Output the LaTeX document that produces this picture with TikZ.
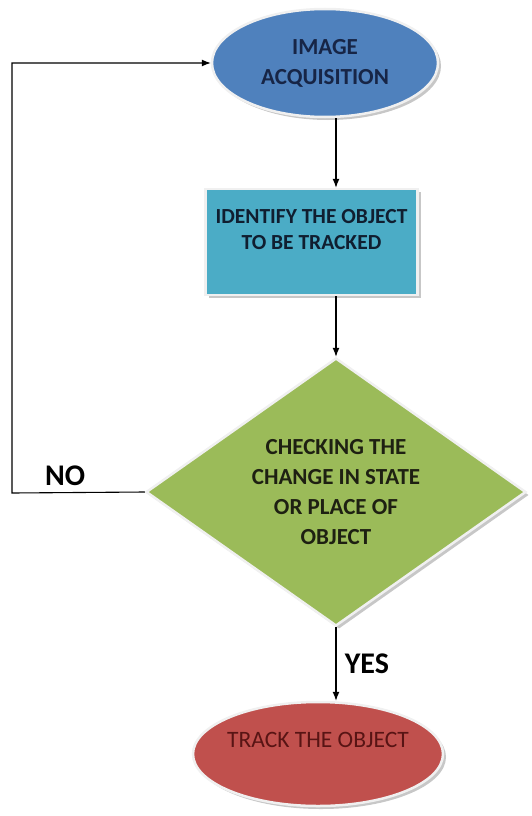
\documentclass[tikz,border=0pt]{standalone}
\usepackage{fontspec}
\setmainfont{Carlito}
\usepackage{tikz}
\usepackage{xcolor}
\usetikzlibrary{shapes.geometric, arrows.meta, positioning, shadows}
\definecolor{acqblue}{RGB}{79, 129, 189}
\definecolor{idteal}{RGB}{75, 172, 198}
\definecolor{checkgreen}{RGB}{155, 187, 89}
\definecolor{trackred}{RGB}{192, 80, 77}
\definecolor{navytext}{RGB}{23, 37, 70}
\definecolor{darktext}{RGB}{16, 30, 48}
\definecolor{olivetext}{RGB}{30, 32, 18}
\definecolor{redtext}{RGB}{88, 20, 20}

\tikzset{
  boxshadow/.style={drop shadow={shadow xshift=3pt, shadow yshift=-3pt, fill=gray!55, opacity=0.8}},
  flowtext/.style={font=\fontsize{23}{30}\selectfont\bfseries, align=center},
  flowarrow/.style={-{Latex[length=9pt,width=7pt]}, line width=1.1pt, black}
}

\begin{document}
\begin{tikzpicture}[x=1pt, y=-1pt, node distance=250pt]
\useasboundingbox (0,0) rectangle (531,816);

% Acquisition step
\node[ellipse, draw=white!88!gray, line width=2.5pt, fill=acqblue, boxshadow,
      minimum width=226, minimum height=108, flowtext, text=navytext]
      (acq) at (325,63) {IMAGE\\ACQUISITION};

% Object identification
\node[rectangle, draw=white!88!gray, line width=2.5pt, fill=idteal, boxshadow,
      minimum width=212, minimum height=106, flowtext, text=darktext,
      font=\fontsize{21.5}{26}\selectfont\bfseries,
      below of=acq, yshift=71pt, xshift=-13.5pt]
      (ident) {IDENTIFY THE OBJECT\\TO BE TRACKED\\\mbox{}};

% Decision
\node[diamond, aspect=1.4, inner sep=0pt, draw=white!88!gray, line width=2.5pt,
      fill=checkgreen, boxshadow, minimum width=380, minimum height=268,
      flowtext, text=olivetext,
      below of=ident, xshift=24.5pt]
      (dec) {CHECKING THE\\CHANGE IN STATE\\OR PLACE OF\\OBJECT};

% Tracking
\node[ellipse, draw=white!88!gray, line width=2.5pt, fill=trackred, boxshadow,
      minimum width=250, minimum height=104, inner xsep=-12pt, align=center,
      text=redtext, font=\fontsize{23.5}{28}\selectfont,
      below of=dec, yshift=-12pt, xshift=-18pt]
      (track) {TRACK THE OBJECT\\\mbox{}};

% Arrows
\coordinate (back) at (12,493);
\draw[flowarrow] (dec.north |- acq.south) -- (dec.north |- ident.north);
\draw[flowarrow] (dec.north |- ident.south) -- (dec.north);
\draw[flowarrow] (dec.south) -- (dec.south |- track.north)
      node[midway, right=5pt, font=\fontsize{30}{32}\selectfont\bfseries] (yes) {YES};
\draw[flowarrow] (dec.west) -- node[pos=0.6, above=3pt,
      font=\fontsize{30}{32}\selectfont\bfseries] (no) {NO} (back) |- (acq.west);

\end{tikzpicture}
\end{document}
